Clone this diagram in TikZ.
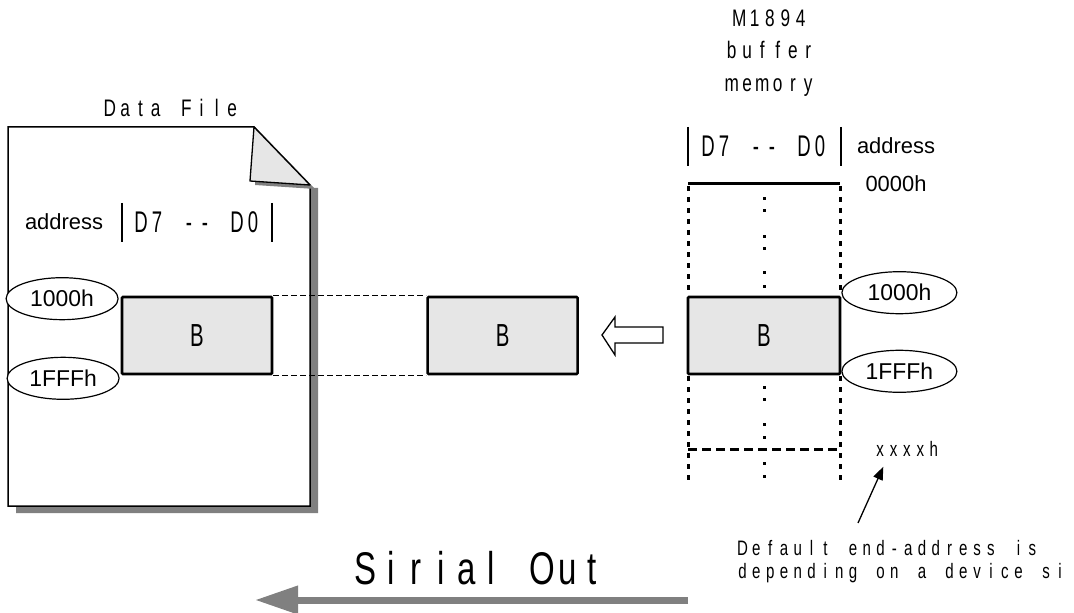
\documentclass[tikz,border=0pt]{standalone}
\usepackage{fontspec}
\usepackage{graphicx}
\usepackage{xcolor}
\usetikzlibrary{arrows.meta, positioning, shapes.geometric}
\newfontfamily\plainsans{Liberation Sans}
\definecolor{boxGrey}{HTML}{E6E6E6}
\definecolor{shadeGrey}{HTML}{808080}
% narrow glyphs, and fixed-pitch text: every character in a cell of the same width
\newcommand\narrow[1]{\scalebox{0.64}[1]{#1}}
\ExplSyntaxOn
\NewDocumentCommand\monotext{O{15bp}O{0.72}m}{\str_map_inline:nn{#3}{\makebox[#1][c]{\scalebox{#2}[1]{##1}}}}
\ExplSyntaxOff

\begin{document}
\begin{tikzpicture}[
  x=1bp, y=-1bp,
  blk/.style={draw, line width=2.6bp, fill=boxGrey, rounded corners=1bp,
              minimum width=150bp, minimum height=77bp, inner sep=0pt,
              font=\plainsans\fontsize{32}{36}\selectfont},
  addr/.style={ellipse, draw, line width=1.2bp, fill=white, inner sep=0pt,
               minimum width=112bp, minimum height=42bp,
               font=\plainsans\fontsize{23}{27}\selectfont},
  mono/.style={inner sep=0pt, font=\plainsans\fontsize{24}{28}\selectfont},
  plain/.style={inner sep=0pt, font=\plainsans\fontsize{22}{26}\selectfont},
  link/.style={line width=1.2bp, dash pattern=on 6bp off 3bp},
  memedge/.style={line width=3bp, dash pattern=on 5bp off 6bp},
  bar/.style={line width=1.3bp},
  ptr/.style={line width=1.3bp, -{Triangle[length=13bp,width=10bp]}},
  serout/.style={line width=7bp, draw=shadeGrey, -{Triangle[length=43bp,width=27bp]}},
]
\useasboundingbox (0,0) rectangle (1074,613);

% data file page
\fill[shadeGrey] (310,188) -- (318,188) -- (318,513) -- (16,513) -- (16,506) -- (310,506) -- cycle;
\draw[line width=1.5bp, fill=white] (8,127) -- (254,127) -- (310,185) -- (310,506) -- (8,506) -- cycle;
\fill[shadeGrey] (259,131) -- (255,185) -- (315,189) -- cycle;
\draw[line width=1.3bp, fill=boxGrey, line join=round] (254,127) -- (250,181) -- (310,185) -- cycle;

\node[mono] (ftitle) at (171,108) {\monotext[15.3bp]{Data File}};
\node[plain] (faddr) at (64,222) {address};
\node[mono, font=\plainsans\fontsize{30}{34}\selectfont] (fbits) at (197,222) {\monotext[16bp][0.62]{D7 -- D0}};
\draw[bar] (122,203) -- (122,242);
\draw[bar] (272,203) -- (272,242);

\node[blk] (bfile) at (197,335.5) {\narrow{B}};
\node[blk, right=153bp of bfile] (bmid) {\narrow{B}};
\node[addr, anchor=east] (fstart) at ([xshift=-2bp,yshift=-3bp]bfile.north west) {1000h};
\node[addr, anchor=east] (fend) at ([xshift=-1bp,yshift=-3bp]bfile.south west) {1FFFh};

\draw[link] (bfile.north east) -- (bmid.north west);
\draw[link] (bfile.south east) -- (bmid.south west);

% hollow arrow
\draw[line width=1.3bp] (602,335) -- (615,317) -- (615,327) -- (663,327) -- (663,343)
  -- (615,343) -- (615,355) -- cycle;

% buffer memory
\node[mono, align=center, font=\plainsans\fontsize{24}{32.5}\selectfont] (mtitle) at (770,53)
  {\monotext[15.3bp]{M1894}\\ \monotext[15.3bp]{buffer}\\ \monotext[15.3bp]{memory}};
\node[mono, font=\plainsans\fontsize{30}{34}\selectfont] (mbits) at (764,146) {\monotext[16bp][0.62]{D7 -- D0}};
\draw[bar] (688,127) -- (688,166);
\draw[bar] (841,127) -- (841,166);
\node[plain] (maddr) at (896,146) {address};
\node[plain] (mtop) at (896,184) {0000h};

\draw[line width=3bp] (688,184) -- (840,184);
\foreach \xx in {688,840} {
  \draw[memedge] (\xx,186) -- (\xx,296);
  \draw[memedge] (\xx,376) -- (\xx,483);
}
\foreach \yy in {199,211,237,249,273,286,387,399,424,437,463,476}
  \fill (762.5,\yy-1.5) rectangle ++(3,3);
\draw[line width=3bp, dash pattern=on 9bp off 5bp] (688,449) -- (840,449);

\node[blk, minimum width=152bp] (bmem) at (764,335.5) {\narrow{B}};
\node[addr, anchor=west, minimum width=115bp] (mstart) at ([yshift=3bp]bmem.north east) {1000h};
\node[addr, anchor=west, minimum width=115bp] (mend) at ([yshift=4bp]bmem.south east) {1FFFh};

\node[mono, font=\plainsans\fontsize{21}{25}\selectfont] (mlast) at (907,449) {\monotext[13.4bp]{xxxxh}};
\node[mono, anchor=north west, align=left, font=\plainsans\fontsize{21}{23}\selectfont] (note) at (735.5,540)
  {\monotext[13.8bp]{Default end-address is}\\ \monotext[13.8bp]{depending on a device si}};
\coordinate (ptrtail) at (858,523);
\draw[ptr] (ptrtail) -- ([xshift=10bp,yshift=-10bp]mlast.south west);

% serial output
\node[mono, font=\plainsans\fontsize{46}{50}\selectfont] (sout) at (479,568.5) {\monotext[25.2bp]{Sirial Out}};
\coordinate (soutR) at (688,600);
\coordinate (soutL) at (255,600);
\draw[serout] (soutR) -- (soutL);
\end{tikzpicture}
\end{document}
